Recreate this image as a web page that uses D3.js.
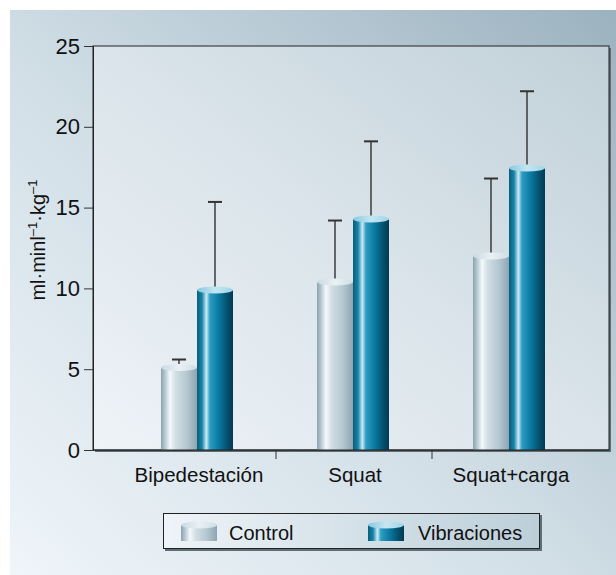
<!DOCTYPE html>
<html>
<head>
<meta charset="utf-8">
<script src="https://cdn.jsdelivr.net/npm/d3@7"></script>
<style>
  body { margin: 0; background: #fff; }
  text { font-family: "Liberation Sans", Arial, sans-serif; fill: #111; }
</style>
</head>
<body>
<div id="chart"></div>
<script>
// data
const categories = ["Bipedestación", "Squat", "Squat+carga"];
const seriesNames = ["Control", "Vibraciones"];
const controlValues = [5.1, 10.4, 12.0];
const controlErr = [0.5, 3.8, 4.8];
const vibValues = [9.9, 14.3, 17.45];
const vibErr = [5.45, 4.8, 4.75];
const yTicks = [0, 5, 10, 15, 20, 25];

const W = 616, H = 575;
const plot = {left: 93, right: 609, top: 46, bottom: 450};

const svg = d3.select("#chart").append("svg")
  .attr("width", W).attr("height", H);

const defs = svg.append("defs");

function linGrad(id, x1, y1, x2, y2, stops) {
  const g = defs.append("linearGradient").attr("id", id)
    .attr("x1", x1).attr("y1", y1).attr("x2", x2).attr("y2", y2);
  stops.forEach(s => g.append("stop").attr("offset", s[0]).attr("stop-color", s[1]));
}

// panel + plot backgrounds
linGrad("panelBg", "0%", "100%", "100%", "0%", [["0%", "#eff5f9"], ["45%", "#d2dfe7"], ["100%", "#9bb2bf"]]);
linGrad("plotBg", "0%", "100%", "100%", "0%", [["0%", "#eef3f7"], ["50%", "#dae4ea"], ["100%", "#c1d0d8"]]);
linGrad("legendBg", "0%", "0%", "100%", "0%", [["0%", "#eef4f8"], ["100%", "#bccfd9"]]);

// cylinder gradients
linGrad("ctrlBody", "0%", "0%", "100%", "0%", [
  ["0%", "#8aa3ae"], ["12%", "#b9cbd3"], ["25%", "#f4f9fb"], ["40%", "#d2dfe5"],
  ["75%", "#b1c4cd"], ["100%", "#8ca5b1"]]);
linGrad("vibBody", "0%", "0%", "100%", "0%", [
  ["0%", "#0b5d7b"], ["14%", "#1684a8"], ["26%", "#cdebf5"], ["36%", "#2d9dc3"],
  ["60%", "#0a7aa0"], ["85%", "#044e6c"], ["100%", "#023a52"]]);
linGrad("ctrlTop", "0%", "0%", "100%", "0%", [["0%", "#c9d9e1"], ["50%", "#e9f1f5"], ["100%", "#cfdde4"]]);
linGrad("vibTop", "0%", "0%", "100%", "0%", [["0%", "#86c9e0"], ["50%", "#c5e6f2"], ["100%", "#9fd5e8"]]);

const bodyFill = {"Control": "url(#ctrlBody)", "Vibraciones": "url(#vibBody)"};
const topFill = {"Control": "url(#ctrlTop)", "Vibraciones": "url(#vibTop)"};

svg.append("rect").attr("x", 10).attr("y", 10).attr("width", W - 10).attr("height", H - 10)
  .attr("fill", "url(#panelBg)");

// plot box with a shadow on the right
svg.append("rect").attr("x", plot.left + 2).attr("y", plot.top + 2)
  .attr("width", plot.right - plot.left).attr("height", plot.bottom - plot.top)
  .attr("fill", "#5f6f77");
svg.append("rect").attr("x", plot.left).attr("y", plot.top)
  .attr("width", plot.right - plot.left).attr("height", plot.bottom - plot.top)
  .attr("fill", "url(#plotBg)").attr("stroke", "#222").attr("stroke-width", 1);

// scales
const x = d3.scaleBand().domain(categories).range([119, 587]);
const xs = d3.scaleBand().domain(seriesNames).range([0, 72]);
const y = d3.scaleLinear().domain([0, 25]).range([plot.bottom, plot.top]);

// y axis
const yAxis = svg.append("g")
  .attr("transform", `translate(${plot.left},0)`)
  .call(d3.axisLeft(y).tickValues(yTicks).tickSize(9).tickPadding(4));
yAxis.select(".domain").attr("stroke", "#222");
yAxis.selectAll(".tick line").attr("stroke", "#333");
yAxis.selectAll(".tick text").style("font-size", "22px").attr("fill", "#111");

// x axis: ticks only between categories
const xAxis = svg.append("g").attr("transform", `translate(0,${plot.bottom})`);
xAxis.selectAll("line.sep").data(categories.slice(1)).join("line")
  .attr("class", "sep")
  .attr("x1", d => x(d) + 1).attr("x2", d => x(d) + 1)
  .attr("y1", 0).attr("y2", 9).attr("stroke", "#333");
xAxis.selectAll("text").data(categories).join("text")
  .attr("x", d => x(d) + x.bandwidth() / 2 + 2)
  .attr("y", 32)
  .attr("text-anchor", "middle")
  .style("font-size", "20.5px")
  .text(d => d);

// y label
const yl = svg.append("text")
  .attr("transform", "translate(45,240) rotate(-90)")
  .attr("text-anchor", "middle")
  .style("font-size", "20px");
yl.append("tspan").text("ml·minl");
yl.append("tspan").attr("dy", -8).style("font-size", "13px").text("–1");
yl.append("tspan").attr("dy", 8).text("·kg");
yl.append("tspan").attr("dy", -8).style("font-size", "13px").text("–1");

// bars
const rows = [];
categories.forEach((c, i) => {
  rows.push({cat: c, s: "Control", v: controlValues[i], e: controlErr[i]});
  rows.push({cat: c, s: "Vibraciones", v: vibValues[i], e: vibErr[i]});
});

const bw = xs.bandwidth();
const barX = d => x(d.cat) + (x.bandwidth() - 72) / 2 + xs(d.s);

const bars = svg.append("g").selectAll("g").data(rows).join("g");

// error bars (upper only)
bars.append("line")
  .attr("x1", d => barX(d) + bw / 2).attr("x2", d => barX(d) + bw / 2)
  .attr("y1", d => y(d.v)).attr("y2", d => y(d.v + d.e))
  .attr("stroke", "#222").attr("stroke-width", 1.3);
bars.append("line")
  .attr("x1", d => barX(d) + bw / 2 - 7).attr("x2", d => barX(d) + bw / 2 + 7)
  .attr("y1", d => y(d.v + d.e)).attr("y2", d => y(d.v + d.e))
  .attr("stroke", "#333").attr("stroke-width", 2);

bars.append("rect")
  .attr("x", d => barX(d)).attr("width", bw)
  .attr("y", d => y(d.v)).attr("height", d => plot.bottom - y(d.v))
  .attr("fill", d => bodyFill[d.s]);
bars.append("ellipse")
  .attr("cx", d => barX(d) + bw / 2).attr("cy", d => y(d.v))
  .attr("rx", bw / 2).attr("ry", 3.5)
  .attr("fill", d => topFill[d.s]);

// redraw baseline over bar bottoms
svg.append("line").attr("x1", plot.left).attr("x2", plot.right)
  .attr("y1", plot.bottom).attr("y2", plot.bottom).attr("stroke", "#222");

// legend
const lg = svg.append("g");
lg.append("rect").attr("x", 165).attr("y", 515).attr("width", 377).attr("height", 36).attr("fill", "#5f6f77");
lg.append("rect").attr("x", 163.5).attr("y", 513.5).attr("width", 376).attr("height", 35)
  .attr("fill", "url(#legendBg)").attr("stroke", "#222");

const legX = {"Control": 181, "Vibraciones": 368};
const items = lg.selectAll("g.item").data(seriesNames).join("g").attr("class", "item")
  .attr("transform", d => `translate(${legX[d]},522)`);
items.append("rect").attr("x", 0).attr("y", 3).attr("width", 36).attr("height", 16)
  .attr("fill", d => bodyFill[d]);
items.append("ellipse").attr("cx", 18).attr("cy", 3).attr("rx", 18).attr("ry", 3.5)
  .attr("fill", d => topFill[d]);
items.append("text").attr("x", d => d === "Control" ? 48 : 50).attr("y", 18)
  .style("font-size", "20px").text(d => d);
</script>
</body>
</html>
